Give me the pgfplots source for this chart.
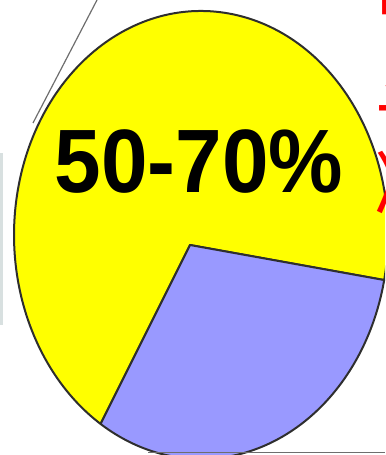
\documentclass[border=0pt]{standalone}
\usepackage{pgfplots}
\pgfplotsset{compat=1.18}
\usepackage{pgfplotstable}
\usepackage{fontspec}
\setmainfont{Liberation Sans}
\newfontfamily\cjk{Noto Sans CJK SC}
\definecolor{pieyellow}{HTML}{FFFF00}
\definecolor{pieblue}{HTML}{9999FF}
\definecolor{edgecol}{HTML}{2E2E2E}
\definecolor{leadcol}{HTML}{6E6E6E}
\definecolor{panelcol}{HTML}{D8E0E0}
\definecolor{redtext}{HTML}{FF0000}
\pgfplotstableread{
share
69.2
30.8
}\piedata
\begin{document}
\begin{tikzpicture}
\pgfplotstablegetelem{0}{share}\of\piedata \pgfmathsetmacro{\sa}{\pgfplotsretval}
\pgfplotstablegetelem{1}{share}\of\piedata \pgfmathsetmacro{\sb}{\pgfplotsretval}
\pgfmathsetmacro{\astart}{-11.6}
\pgfmathsetmacro{\amid}{\astart+3.6*\sa}
\pgfmathsetmacro{\aend}{\amid+3.6*\sb}
\pgfmathsetmacro{\xA}{201+187*cos(\astart)}
\pgfmathsetmacro{\yA}{220+224*sin(\astart)}
\pgfmathsetmacro{\xB}{201+187*cos(\amid)}
\pgfmathsetmacro{\yB}{220+224*sin(\amid)}
\begin{axis}[name=ax, hide axis, scale only axis, width=192.5pt, height=227.5pt,
  xmin=0, xmax=385, ymin=0, ymax=455, clip=false]
\begin{scope}
\clip (axis cs:0,0) rectangle (axis cs:385,455);
\filldraw[fill=pieyellow, draw=edgecol, line width=1pt, line join=round]
  (axis cs:190,210) -- (axis cs:\xA,\yA)
  arc[start angle=\astart, end angle=\amid, x radius=93.5pt, y radius=112pt] -- cycle;
\filldraw[fill=pieblue, draw=edgecol, line width=1pt, line join=round]
  (axis cs:190,210) -- (axis cs:\xB,\yB)
  arc[start angle=\amid, end angle=\aend, x radius=93.5pt, y radius=112pt] -- cycle;
\draw[leadcol, line width=0.6pt] (axis cs:97,455) -- (axis cs:33,332);
\draw[leadcol, line width=0.9pt] (axis cs:148,2.5) -- (axis cs:385,2.5);
\fill[panelcol] (axis cs:0,130) rectangle (axis cs:3,302);
\node[font=\fontsize{45}{45}\selectfont\bfseries, xscale=0.93, inner sep=0pt]
  at (axis cs:199,293) {50-70\%};
\node[font=\cjk\fontsize{38}{38}\selectfont, text=redtext, anchor=west, inner sep=0pt]
  at (axis cs:376,460) {明};
\node[font=\cjk\fontsize{38}{38}\selectfont, text=redtext, anchor=west, inner sep=0pt]
  at (axis cs:376,375) {显};
\node[font=\cjk\fontsize{38}{38}\selectfont, text=redtext, anchor=west, inner sep=0pt]
  at (axis cs:374,272) {减};
\end{scope}
\end{axis}
\pgfresetboundingbox
\path[use as bounding box] (ax.south west) rectangle (ax.north east);
\end{tikzpicture}
\end{document}
